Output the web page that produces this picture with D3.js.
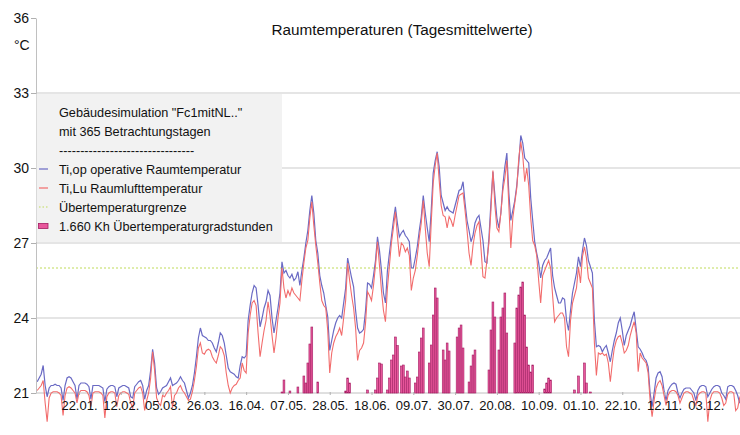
<!DOCTYPE html>
<html><head><meta charset="utf-8">
<script src="https://cdn.jsdelivr.net/npm/d3@7"></script>
<style>
html,body{margin:0;padding:0;background:#fff;overflow:hidden;}
svg{display:block;font-family:"Liberation Sans",Arial,sans-serif;}
</style></head><body>
<div id="chart"></div>
<script>
// ---------- DATA ----------
const title = "Raumtemperaturen (Tagesmittelwerte)";
const unitLabel = "°C";
const yTicks = [21, 24, 27, 30, 33, 36];
const tickDays = [21, 42, 63, 84, 105, 126, 147, 168, 189, 210, 231, 252, 273, 294, 315, 336];
const tickLabels = ["22.01.", "12.02.", "05.03.", "26.03.", "16.04.", "07.05.", "28.05.", "18.06.", "09.07.", "30.07.", "20.08.", "10.09.", "01.10.", "22.10.", "12.11.", "03.12."];
const threshold = 26;
const legendHeader = ["Gebäudesimulation \"Fc1mitNL..\"", "mit 365 Betrachtungstagen", "--------------------------------"];
const seriesNames = ["Ti,op operative Raumtemperatur", "Ti,Lu Raumlufttemperatur", "Übertemperaturgrenze", "1.660 Kh Übertemperaturgradstunden"];

// Ti,op operative Raumtemperatur (daily means, day 0 = 01.01.)
const tiOp = [
21.45,21.6,21.75,22.1,21.3,20.85,21.2,21.3,21.3,21.35,
21.3,21.3,21.2,20.7,21.3,21.6,21.65,21.6,21.45,21.3,
20.75,21.3,21.4,21.4,21.4,21.35,21.25,20.75,21.3,21.3,
21.3,21.3,21.25,21.2,20.65,21.15,21.25,21.3,21.3,21.25,
20.85,21.2,21.25,21.3,21.3,21.25,21.2,20.85,20.8,21.25,
21.35,21.45,21.5,21.3,20.75,21.1,21.3,21.9,22.75,22.2,
21.2,20.95,21.05,21.2,21.25,21.3,21.45,21.6,21.3,21.35,
21.4,21.5,21.65,21.5,21.4,21.1,20.8,21.0,21.3,21.8,
22.45,23.2,23.6,23.3,23.25,23.2,23.1,23.1,23.0,22.8,
22.65,23.0,23.4,23.3,23.0,22.5,22.0,21.85,21.8,21.75,
21.65,21.6,22.1,22.45,22.4,22.5,23.9,24.5,25.0,25.3,
25.2,24.5,23.65,24.0,24.4,24.65,25.1,24.9,24.0,23.4,
23.9,24.4,25.0,26.25,25.8,25.9,25.7,25.6,25.75,25.5,
25.6,25.85,25.3,25.9,26.4,27.0,27.5,28.3,28.9,28.2,
27.1,26.6,25.7,25.3,25.0,24.5,24.05,22.7,23.1,23.5,
23.8,24.0,24.1,24.0,24.6,25.2,26.4,26.0,25.6,25.25,
24.3,23.6,23.4,23.45,23.55,24.3,25.4,25.35,25.2,25.7,
26.3,27.25,26.7,25.9,25.0,24.6,25.9,26.6,27.25,27.9,
28.45,27.8,27.25,27.4,27.5,27.3,27.2,27.05,26.0,26.0,
26.4,26.85,27.5,28.05,28.9,28.2,27.6,27.05,28.3,29.8,
30.3,30.65,30.05,28.9,28.6,28.3,28.45,28.3,28.25,28.2,
28.5,28.8,29.1,29.15,29.45,28.6,27.9,27.5,27.05,27.3,
27.8,28.0,28.1,27.6,27.1,26.25,26.2,27.2,28.6,29.85,
28.9,28.0,27.6,28.2,29.3,30.05,30.6,29.0,27.9,28.3,
28.7,29.3,30.2,31.3,31.0,30.4,30.3,30.2,28.8,27.9,
27.05,26.6,26.2,25.6,26.1,26.3,26.4,26.6,26.8,25.7,
25.2,24.9,24.6,24.6,24.8,24.75,23.9,23.5,24.3,25.0,
25.4,25.8,26.45,26.05,26.7,27.2,26.9,26.3,26.05,25.8,
23.9,22.85,22.9,22.85,22.65,22.8,22.9,22.6,22.25,22.7,
23.1,23.4,23.8,24.0,23.5,22.9,23.3,23.5,23.7,24.0,
24.25,23.55,22.85,22.75,22.6,22.4,22.3,22.05,21.0,20.45,
21.0,21.6,21.8,21.85,21.65,21.1,20.7,21.1,21.25,21.35,
21.4,21.35,21.0,20.8,21.0,21.15,21.2,21.2,21.2,21.1,
21.0,20.7,21.1,21.25,21.3,21.3,21.25,20.85,21.0,21.15,
21.25,21.3,21.3,21.25,21.0,20.9,20.75,21.25,21.3,21.3,
21.25,21.1,20.9,20.6,21.0,21.2,21.3,21.3,21.25,20.8,
21.1,21.25,21.3,21.3,21.2
];

// Ti,Lu Raumlufttemperatur (daily means)
const tiLu = [
21.1,21.2,21.3,21.5,20.6,19.85,20.8,21.0,21.05,21.05,
21.05,21.0,20.9,20.1,20.9,21.2,21.25,21.2,21.1,21.0,
20.6,21.0,21.1,21.1,21.1,21.05,20.9,20.45,21.0,21.05,
21.05,21.05,21.0,20.9,20.0,20.85,21.0,21.05,21.05,21.0,
20.45,20.9,21.0,21.05,21.05,21.0,20.95,20.6,20.4,21.0,
21.1,21.2,21.25,21.0,20.3,20.7,21.0,21.6,22.65,21.9,
20.8,20.6,20.5,20.9,20.85,21.0,21.1,21.25,20.4,20.9,
21.0,21.2,21.3,21.1,21.0,20.85,20.7,20.75,21.05,21.5,
22.05,22.8,23.0,22.6,22.55,22.7,22.75,22.7,22.45,22.3,
22.2,22.5,22.85,22.75,22.5,21.8,21.3,21.0,21.2,21.3,
21.35,21.5,21.6,22.2,21.9,21.8,23.4,24.1,24.6,24.7,
24.5,23.4,22.45,23.0,23.5,23.9,24.65,24.1,23.3,22.6,
23.2,24.0,24.6,26.0,25.2,24.8,25.1,24.9,25.2,25.0,
24.9,24.8,24.7,25.5,26.2,26.8,27.1,28.0,28.65,27.7,
26.9,26.2,25.4,24.7,24.5,24.4,23.5,21.8,22.6,23.0,
23.25,23.4,23.6,23.3,24.0,24.7,26.2,25.5,24.9,24.4,
23.6,22.3,22.7,22.8,23.0,23.8,25.05,24.9,24.7,25.3,
26.1,27.05,26.1,25.1,24.3,23.85,25.2,26.1,27.0,27.6,
28.25,27.3,26.45,27.0,26.9,26.65,26.8,26.5,25.1,25.6,
25.9,26.5,27.2,27.8,28.7,27.6,26.6,26.05,27.8,29.4,
30.1,30.6,29.5,28.5,28.1,28.05,27.6,28.05,27.9,27.65,
28.1,28.5,28.9,28.95,29.0,28.3,27.5,26.6,26.1,26.9,
27.4,27.7,27.85,26.8,25.65,25.6,26.3,27.0,28.3,29.9,
28.5,27.6,27.45,28.2,29.1,29.6,30.3,28.5,26.8,28.0,
28.6,29.2,30.4,31.05,30.5,29.45,30.0,29.3,28.0,27.1,
26.9,26.5,25.5,24.6,25.7,25.9,26.1,26.3,26.0,24.9,
23.85,24.0,24.1,24.2,24.2,24.0,22.85,22.45,23.9,24.6,
24.9,25.2,26.05,25.4,26.45,26.85,26.4,25.6,25.4,25.2,
23.0,21.7,22.6,22.55,22.6,22.5,22.55,22.2,21.45,22.2,
22.8,23.1,23.25,23.3,23.0,22.6,22.7,22.9,23.3,23.6,
23.85,23.4,21.85,22.6,22.4,22.3,22.2,21.8,20.7,20.05,
20.7,21.2,21.4,21.5,21.3,20.9,20.5,20.9,21.05,21.1,
21.1,21.05,20.9,20.6,20.8,21.0,21.05,21.05,21.0,20.95,
20.7,20.5,20.9,21.0,21.05,21.05,21.0,19.85,20.7,20.95,
21.05,21.05,21.05,21.0,20.8,20.5,20.6,20.95,21.05,21.05,
21.0,20.3,20.4,20.8,21.0,21.05,21.05,21.0,20.9,20.3,
20.8,21.0,21.05,21.05,21.0
];

// Übertemperaturgradstunden per day [day, Kh] (all other days 0)
const overheatDays = [
[123,0.4],[124,5.2],[127,0.8],[131,2.4],[134,6.8],[135,4],[136,12],[137,19.6],[138,26.4],[141,4.4],
[155,0.8],[156,6],[157,4],
[166,1.2],[170,1.2],[171,6],[172,12],[173,11.6],
[176,1.2],[177,6],[178,13.2],[179,15.2],[180,22.4],[181,19],
[183,10.8],[184,11.2],[185,6.4],[186,8.8],[187,6],
[190,4],[191,6.4],[192,16.4],[193,22],[194,26],
[197,12],[198,19.2],[199,31.2],[200,42],[201,38],
[204,17.2],[205,13.2],[206,20],[207,16.8],
[211,22.4],[212,26],[213,27.2],[214,18],
[217,4.4],[218,10.8],[219,15.2],[220,17.2],
[227,9.2],[228,25.2],[229,36.4],[230,30.4],
[232,17.2],[233,30.4],[234,34],[235,40],[236,24],
[240,20],[241,34],[242,39.2],[243,42.4],[244,44.4],[245,31.2],[246,18.4],[247,11.2],[248,8.4],[249,11.2],
[255,1.6],[256,4],[257,6],[258,5.2],
[270,1.2],[272,6.8],[275,12],[276,4],[278,0.4]
];

// ---------- CHART ----------
const W = 780, H = 435;
const nDays = tiOp.length;
const khMap = new Map(overheatDays);
const kh = d3.range(nDays).map(d => khMap.get(d) || 0);

const x = d3.scaleLinear().domain([0, 364]).range([37.2, 37.2 + 1.99 * 364]);
const y = d3.scaleLinear().domain([21, 36]).range([393, 18]);
const yKh = d3.scaleLinear().domain([0, 150]).range([393, 18]);
const axisX = 36;

const svg = d3.select("#chart").append("svg").attr("width", W).attr("height", H);

// gridlines
svg.append("g").selectAll("line").data(yTicks.filter(t => t > 21 && t < 36)).join("line")
  .attr("x1", axisX).attr("x2", W).attr("y1", d => y(d)).attr("y2", d => y(d))
  .attr("stroke", "#dcdcdc").attr("stroke-width", 1.5);

// threshold
svg.append("line").attr("x1", axisX).attr("x2", W)
  .attr("y1", y(threshold)).attr("y2", y(threshold))
  .attr("stroke", "#bfdc5a").attr("stroke-width", 1.2).attr("stroke-dasharray", "2,2");

// x axis line
svg.append("line").attr("x1", axisX).attr("x2", W).attr("y1", y(21)).attr("y2", y(21))
  .attr("stroke", "#c0c0c0").attr("stroke-width", 1);

// bars
svg.append("g").selectAll("rect").data(kh).join("rect")
  .attr("x", (d, i) => x(i) - 0.9).attr("width", 1.8)
  .attr("y", d => yKh(d)).attr("height", d => Math.max(0, yKh(0) - yKh(d)))
  .attr("fill", "#e8579c").attr("stroke", "#a31d62").attr("stroke-width", 0.6);

// lines
const line = d3.line().x((d, i) => x(i)).y(d => y(d));
svg.append("path").datum(tiOp).attr("d", line).attr("fill", "none")
  .attr("stroke", "#6a6ac4").attr("stroke-width", 1.2);
svg.append("path").datum(tiLu).attr("d", line).attr("fill", "none")
  .attr("stroke", "#f26c6c").attr("stroke-width", 1.1);

// x axis ticks & labels
const xAxis = d3.axisBottom(x).tickValues(tickDays).tickFormat((d, i) => tickLabels[i])
  .tickSizeInner(3).tickSizeOuter(0).tickPadding(6);
const gx = svg.append("g").attr("transform", `translate(0,${y(21) - 1})`).call(xAxis);
gx.select(".domain").remove();
gx.selectAll(".tick line").attr("stroke", "#b0b0b0");
gx.selectAll(".tick text").attr("font-size", 13).attr("fill", "#111")
  .attr("font-family", "'Liberation Sans',Arial,sans-serif");

// y axis
const yAxis = d3.axisLeft(y).tickValues(yTicks).tickFormat(d3.format("d"))
  .tickSizeInner(5).tickSizeOuter(0).tickPadding(2);
const gy = svg.append("g").attr("transform", `translate(${axisX},0)`).call(yAxis);
gy.select(".domain").attr("stroke", "#c0c0c0");
gy.selectAll(".tick line").attr("stroke", "#b0b0b0");
gy.selectAll(".tick text").attr("font-size", 14).attr("fill", "#111")
  .attr("font-family", "'Liberation Sans',Arial,sans-serif");

// unit
svg.append("text").attr("x", 14).attr("y", 50).attr("font-size", 14).attr("fill", "#111").text(unitLabel);

// title
svg.append("text").attr("x", 402).attr("y", 35).attr("text-anchor", "middle")
  .attr("font-size", 15.3).attr("fill", "#111").text(title);

// legend
const lg = svg.append("g");
lg.append("rect").attr("x", axisX + 0.5).attr("y", y(33) + 1).attr("width", 282 - axisX - 0.5)
  .attr("height", 242 - y(33) - 1).attr("fill", "#f2f2f2");
const lines = legendHeader.concat(seriesNames);
lg.selectAll("text").data(lines).join("text")
  .attr("x", 59).attr("y", (d, i) => 117 + i * 19)
  .attr("font-size", 12.7).attr("fill", "#111").text(d => d);
const symY = i => 117 + (i + 3) * 19 - 5;
lg.append("line").attr("x1", 39).attr("x2", 48).attr("y1", symY(0)).attr("y2", symY(0))
  .attr("stroke", "#6a6ac4").attr("stroke-width", 1.2);
lg.append("line").attr("x1", 39).attr("x2", 48).attr("y1", symY(1)).attr("y2", symY(1))
  .attr("stroke", "#f26c6c").attr("stroke-width", 1.2);
lg.append("line").attr("x1", 39).attr("x2", 48).attr("y1", symY(2)).attr("y2", symY(2))
  .attr("stroke", "#bfdc5a").attr("stroke-width", 1.2).attr("stroke-dasharray", "1.5,2");
lg.append("rect").attr("x", 38.5).attr("y", symY(3) - 2.5).attr("width", 9.5).attr("height", 5)
  .attr("fill", "#e8579c").attr("stroke", "#a31d62").attr("stroke-width", 0.8);
</script>
</body></html>
